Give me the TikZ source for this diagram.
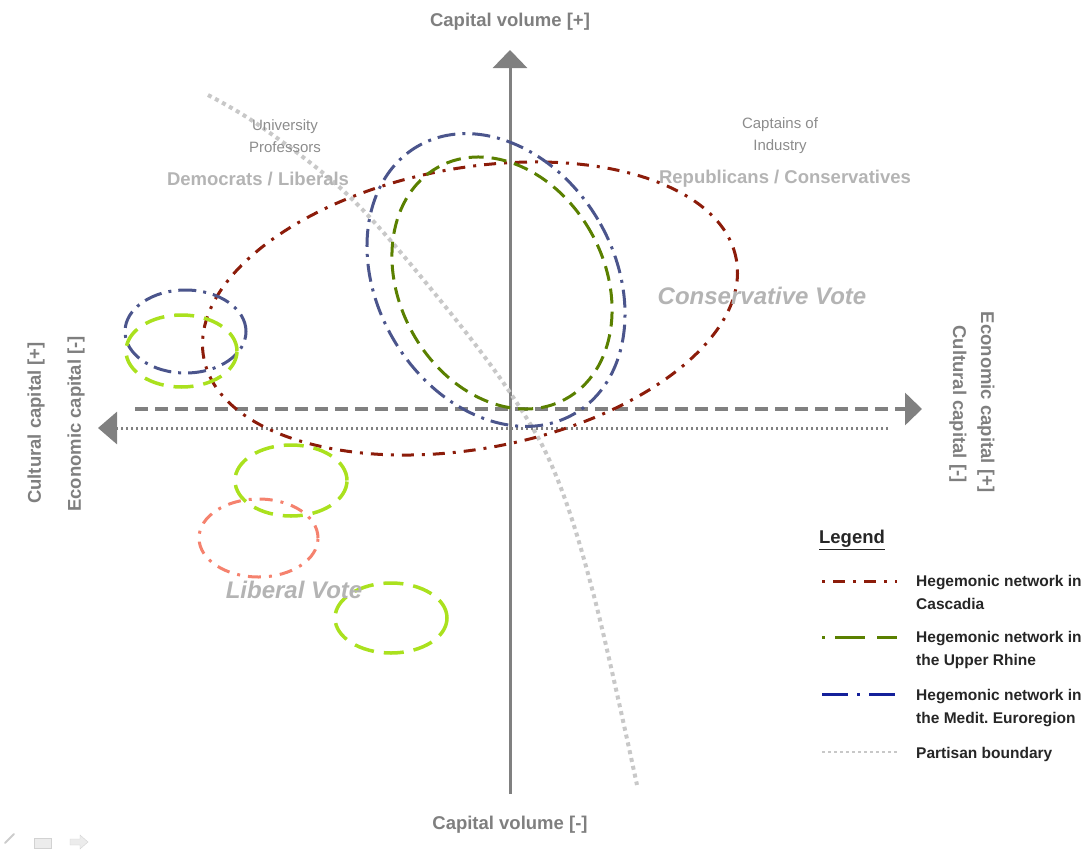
\documentclass[tikz,border=0pt]{standalone}
\usepackage{fontspec}
\setmainfont{Liberation Sans}
\usepackage{xcolor}
\usepackage{tikz}
\usetikzlibrary{arrows.meta, positioning}

\definecolor{axisgray}{HTML}{808080}
\definecolor{labelgray}{HTML}{7F7F7F}
\definecolor{palegray}{HTML}{B4B4B4}
\definecolor{groupgray}{HTML}{8C8C8C}
\definecolor{bordergray}{HTML}{C8C8C8}
\definecolor{cascred}{HTML}{8C1C0A}
\definecolor{rhinegreen}{HTML}{5A8000}
\definecolor{meditblue}{HTML}{4B558C}
\definecolor{meditnavy}{HTML}{14209A}
\definecolor{limegreen}{HTML}{AAE11E}
\definecolor{salmonred}{HTML}{F5826E}
\definecolor{legendtext}{HTML}{262626}

\begin{document}
\begin{tikzpicture}[x=1pt, y=-1pt, >=Latex,
  axis/.style={draw=axisgray, line width=3pt},
  axislabel/.style={text=labelgray, font=\bfseries\fontsize{18.5}{22}\selectfont, inner sep=0pt},
  partylabel/.style={text=palegray, font=\bfseries\fontsize{18.5}{22}\selectfont, inner sep=0pt},
  grouplabel/.style={text=groupgray, align=center, font=\fontsize{15}{22}\selectfont, inner sep=0pt},
  votelabel/.style={text=palegray, font=\bfseries\itshape\fontsize{24}{28}\selectfont, inner sep=0pt},
  legtext/.style={text=legendtext, align=left, anchor=base west, font=\bfseries\fontsize{15.5}{23}\selectfont, inner sep=0pt},
  cascadia/.style={draw=cascred, line width=3pt, dash pattern=on 12pt off 8pt on 3pt off 8pt},
  rhine/.style={draw=rhinegreen, line width=3pt, dash pattern=on 15pt off 8pt},
  medit/.style={draw=meditblue, line width=3pt, dash pattern=on 18pt off 7pt on 3pt off 7pt},
  lime/.style={draw=limegreen, line width=3.5pt, dash pattern=on 20pt off 10pt},
  salmon/.style={draw=salmonred, line width=3pt, dash pattern=on 13pt off 8pt on 3pt off 8pt},
  partisan/.style={draw=bordergray, line width=4pt, dash pattern=on 4pt off 4pt}
]
\useasboundingbox (0,0) rectangle (1091,851);

% axes
\coordinate (vbot) at (510,794);
\coordinate (vtop) at (510,50);
\coordinate (ecoleft) at (135,409);
\coordinate (ecoright) at (922,409);
\coordinate (cultright) at (888,428);
\coordinate (cultleft) at (98,428);
\draw[axis, -{Triangle[width=34pt, length=18pt]}] (vbot) -- (vtop);
\draw[axis, line width=3.5pt, dash pattern=on 13pt off 7pt, -{Triangle[width=32pt, length=17pt]}] (ecoleft) -- (ecoright);
\draw[axis, dash pattern=on 2.5pt off 2.5pt, -{Triangle[width=32pt, length=19pt]}] (cultright) -- (cultleft);

% axis labels
\node[axislabel] (cvplus) at (510,22) {Capital volume [+]};
\node[axislabel] (cvminus) at (510,825) {Capital volume [-]};
\node[axislabel, rotate=90] (cultplus) at (36,423) {Cultural capital [+]};
\node[axislabel, rotate=90] (econminus) at (76,424) {Economic capital [-]};
\node[axislabel, rotate=-90] (econplus) at (986,402) {Economic capital [+]};
\node[axislabel, rotate=-90] (cultminus) at (958,404) {Cultural capital [-]};

% partisan boundary
\draw[partisan] plot[smooth, tension=0.6] coordinates {(208,95) (263,128) (350,197) (440,300) (513,397) (557,478) (595,600) (637,785)};

% hegemonic networks
\draw[cascadia, rotate around={10.5:(470,308.5)}] (470,308.5) ellipse [x radius=270.8pt, y radius=140.3pt];
\draw[medit, rotate around={30.7:(496,280)}] (496,280) ellipse [x radius=118.5pt, y radius=155pt];
\draw[rhine, rotate around={28.8:(502,283)}] (502,283) ellipse [x radius=102.4pt, y radius=132.3pt];
\draw[medit] (185.5,331.5) ellipse [x radius=60.5pt, y radius=41.5pt];
\draw[lime] (181.5,351) ellipse [x radius=55.5pt, y radius=36pt];
\draw[lime] (291,480.5) ellipse [x radius=56pt, y radius=35.5pt];
\draw[salmon] (258.5,538) ellipse [x radius=59.5pt, y radius=39pt];
\draw[lime] (391,618) ellipse [x radius=56pt, y radius=35pt];

% groups and parties
\node[grouplabel] (prof) at (285,136) {University\\Professors};
\node[grouplabel] (capt) at (780,136) {Captains of\\Industry};
\node[partylabel] (dem) at (258,179) {Democrats / Liberals};
\node[partylabel] (rep) at (785,179) {Republicans / Conservatives};
\node[votelabel] (consvote) at (762,296) {Conservative Vote};
\node[votelabel] (libvote) at (294,590) {Liberal Vote};

% legend
\node[text=legendtext, font=\bfseries\fontsize{18.5}{22}\selectfont, inner sep=0pt] (legtitle) at (852,540) {\underline{Legend}};
\node[legtext] (legcasc) at (916,609) {Hegemonic network in\\Cascadia};
\node[legtext] (legrhine) at (916,665) {Hegemonic network in\\the Upper Rhine};
\node[legtext] (legmedit) at (916,723) {Hegemonic network in\\the Medit.\ Euroregion};
\node[legtext] (legborder) at (916,758) {Partisan boundary};
\coordinate (smpcasc) at (822,581);
\coordinate (smprhine) at (822,637);
\coordinate (smpmedit) at (822,694);
\coordinate (smpborder) at (822,752);
\draw[cascadia, dash phase=20pt] (smpcasc) -- ++(75,0);
\draw[rhine, dash pattern=on 3pt off 10pt on 30pt off 12pt on 30pt off 5pt] (smprhine) -- ++(75,0);
\draw[medit, draw=meditnavy, dash pattern=on 26pt off 9pt on 3pt off 9pt] (smpmedit) -- ++(75,0);
\draw[partisan, line width=2.5pt, dash pattern=on 2.5pt off 3.5pt] (smpborder) -- ++(75,0);

% slide controls
\draw[gray!40, line width=2pt, line cap=round] (5,843) -- (14,834);
\draw[gray!35, fill=gray!15] (34,838) rectangle (51,848);
\draw[gray!35, fill=gray!15] (70,839) -- (80,839) -- (80,835) -- (88,842) -- (80,849) -- (80,845) -- (70,845) -- cycle;

\end{tikzpicture}
\end{document}
